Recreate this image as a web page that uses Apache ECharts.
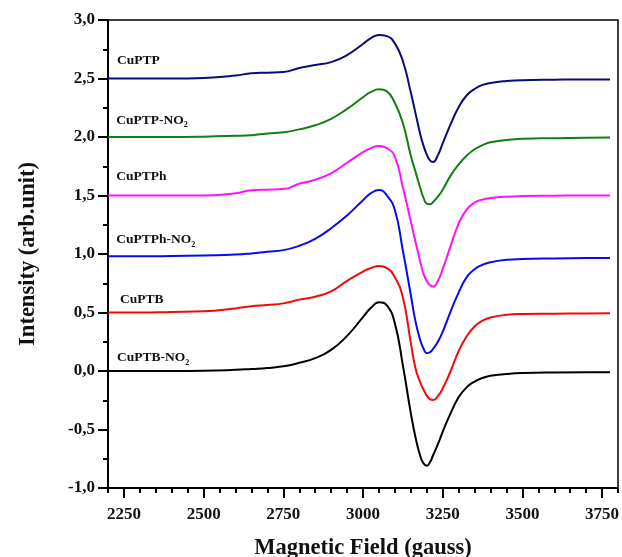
<!DOCTYPE html>
<html>
<head>
<meta charset="utf-8">
<script src="https://cdn.jsdelivr.net/npm/echarts@6/dist/echarts.min.js"></script>
<style>
  html, body { margin: 0; padding: 0; background: #ffffff; }
  #chart { width: 622px; height: 557px; }
</style>
</head>
<body>
<div id="chart"></div>
<script>
// Magnetic field sweep (gauss) shared by all spectra
const fieldGauss = [2200, 2300, 2400, 2500, 2600, 2650, 2700, 2750, 2800, 2850, 2900, 2950, 3000, 3025, 3050, 3075, 3100, 3125, 3150, 3165, 3180, 3190, 3200, 3210, 3220, 3235, 3250, 3275, 3300, 3325, 3350, 3375, 3400, 3450, 3500, 3600, 3700, 3775];

// EPR first-derivative intensities (stacked, arb. units)
const cuPTP = [2.50, 2.50, 2.50, 2.505, 2.525, 2.545, 2.55, 2.555, 2.59, 2.615, 2.64, 2.70, 2.795, 2.845, 2.872, 2.862, 2.80, 2.65, 2.38, 2.20, 2.02, 1.925, 1.85, 1.80, 1.787, 1.845, 1.945, 2.11, 2.255, 2.355, 2.41, 2.445, 2.462, 2.478, 2.486, 2.49, 2.492, 2.492];
const cuPTPNO2 = [2.0, 2.0, 2.0, 2.003, 2.01, 2.015, 2.03, 2.04, 2.065, 2.10, 2.155, 2.24, 2.34, 2.385, 2.408, 2.39, 2.29, 2.12, 1.84, 1.70, 1.56, 1.48, 1.43, 1.425, 1.445, 1.49, 1.55, 1.67, 1.765, 1.84, 1.895, 1.93, 1.955, 1.975, 1.985, 1.99, 1.993, 1.995];
const cuPTPh = [1.50, 1.50, 1.50, 1.50, 1.52, 1.545, 1.55, 1.555, 1.60, 1.635, 1.69, 1.78, 1.87, 1.905, 1.923, 1.905, 1.83, 1.57, 1.28, 1.10, 0.93, 0.83, 0.77, 0.735, 0.72, 0.77, 0.87, 1.07, 1.26, 1.38, 1.44, 1.465, 1.478, 1.49, 1.495, 1.498, 1.5, 1.5];
const cuPTPhNO2 = [0.98, 0.98, 0.983, 0.988, 0.995, 1.005, 1.02, 1.033, 1.07, 1.13, 1.22, 1.33, 1.46, 1.52, 1.547, 1.50, 1.376, 1.03, 0.65, 0.42, 0.26, 0.19, 0.152, 0.16, 0.19, 0.25, 0.335, 0.51, 0.67, 0.80, 0.87, 0.908, 0.93, 0.95, 0.957, 0.962, 0.965, 0.966];
const cuPTB = [0.50, 0.50, 0.505, 0.51, 0.535, 0.553, 0.565, 0.578, 0.61, 0.635, 0.68, 0.77, 0.85, 0.88, 0.897, 0.88, 0.80, 0.63, 0.24, 0.02, -0.10, -0.16, -0.21, -0.24, -0.248, -0.215, -0.15, 0.0, 0.17, 0.295, 0.38, 0.43, 0.458, 0.48, 0.487, 0.49, 0.492, 0.493];
const cuPTBNO2 = [0, 0, 0, 0.002, 0.01, 0.017, 0.025, 0.04, 0.07, 0.11, 0.18, 0.30, 0.46, 0.54, 0.587, 0.56, 0.407, 0.05, -0.36, -0.57, -0.73, -0.79, -0.81, -0.78, -0.72, -0.625, -0.52, -0.36, -0.225, -0.14, -0.09, -0.06, -0.04, -0.026, -0.018, -0.012, -0.01, -0.01];

// Sample names (subscript digit written separately)
const sampleNames = ['CuPTP', 'CuPTP-NO2', 'CuPTPh', 'CuPTPh-NO2', 'CuPTB', 'CuPTB-NO2'];
const sampleValues = [cuPTP, cuPTPNO2, cuPTPh, cuPTPhNO2, cuPTB, cuPTBNO2];
const sampleColors = ['#0a0a78', '#118011', '#ff10ff', '#0a0af0', '#f00a0a', '#000000'];

// Axis tick labels
const fieldTickLabels = [2250, 2500, 2750, 3000, 3250, 3500, 3750];
const intensityTickLabels = ['-1,0', '-0,5', '0,0', '0,5', '1,0', '1,5', '2,0', '2,5', '3,0'];

const FIELD_MIN = 2200, FIELD_MAX = 3800, FIELD_STEP = 50;
const FONT = '"Liberation Serif", "Times New Roman", serif';

// Where each name tag sits, in data units
const tagAnchors = [
  [2228, 2.65], [2226, 2.145], [2226, 1.658], [2226, 1.12], [2238, 0.607], [2228, 0.111]
];

function tagText(name) {
  if (name.endsWith('NO2')) return '{a|' + name.slice(0, -1) + '}{s|2}';
  return '{a|' + name + '}';
}

// Evenly spaced category positions used for the long ticks and labels
const fieldSlots = [];
for (let g = FIELD_MIN; g <= FIELD_MAX; g += FIELD_STEP) fieldSlots.push(String(g));
const isMajor = (idx, val) => fieldTickLabels.indexOf(Number(val)) !== -1;

const series = sampleNames.map((name, i) => ({
  name: name,
  type: 'line',
  xAxisIndex: 0,
  yAxisIndex: 0,
  data: fieldGauss.map((g, k) => [g, sampleValues[i][k]]),
  showSymbol: false,
  smooth: 0.5,
  lineStyle: { color: sampleColors[i], width: 2 },
  itemStyle: { color: sampleColors[i] },
  z: 3,
  markPoint: {
    symbol: 'circle',
    symbolSize: 0,
    silent: true,
    animation: false,
    data: [{ coord: tagAnchors[i], value: 0 }],
    label: {
      show: true,
      position: 'right',
      distance: 0,
      formatter: tagText(name),
      rich: {
        a: { fontFamily: FONT, fontWeight: 'bold', fontSize: 13.5, color: '#111', lineHeight: 18, verticalAlign: 'middle' },
        s: { fontFamily: FONT, fontWeight: 'bold', fontSize: 8, color: '#111', lineHeight: 18, verticalAlign: 'bottom' }
      }
    }
  }
}));

const option = {
  animation: false,
  backgroundColor: '#ffffff',
  grid: {
    left: 108, right: 4, top: 20, bottom: 69,
    outerBoundsMode: 'none',
    containLabel: false,
    show: true, borderColor: '#000', borderWidth: 1.5, backgroundColor: 'transparent'
  },
  xAxis: [
    {
      type: 'value',
      position: 'bottom',
      min: FIELD_MIN, max: FIELD_MAX, interval: FIELD_STEP,
      axisLine: { show: true, onZero: false, lineStyle: { color: '#000', width: 2 } },
      axisTick: { show: true, length: 5, lineStyle: { color: '#000', width: 2 } },
      axisLabel: { show: false },
      splitLine: { show: false },
      name: 'Magnetic Field (gauss)',
      nameLocation: 'middle',
      nameGap: 49,
      nameTextStyle: { fontFamily: FONT, fontWeight: 'bold', fontSize: 22.5, color: '#111', verticalAlign: 'top' }
    },
    {
      type: 'category',
      position: 'bottom',
      data: fieldSlots,
      boundaryGap: false,
      axisLine: { show: false, onZero: false },
      axisTick: { show: true, length: 10, interval: isMajor, lineStyle: { color: '#000', width: 2 } },
      axisLabel: {
        show: true, interval: isMajor, margin: 18,
        fontFamily: FONT, fontWeight: 'bold', fontSize: 17, color: '#111'
      },
      splitLine: { show: false }
    }
  ],
  yAxis: {
    type: 'value',
    min: -1, max: 3, interval: 0.5,
    axisLine: { show: true, onZero: false, lineStyle: { color: '#000', width: 2 } },
    axisTick: { show: true, length: 10, lineStyle: { color: '#000', width: 2 } },
    minorTick: { show: true, splitNumber: 2, length: 5, lineStyle: { color: '#000', width: 2 } },
    axisLabel: {
      margin: 13,
      fontFamily: FONT, fontWeight: 'bold', fontSize: 17, color: '#111',
      formatter: (v) => intensityTickLabels[Math.round((v + 1) / 0.5)]
    },
    splitLine: { show: false },
    name: 'Intensity (arb.unit)',
    nameLocation: 'middle',
    nameGap: 68,
    nameTextStyle: { fontFamily: FONT, fontWeight: 'bold', fontSize: 22.5, color: '#111' }
  },
  series: series
};

const chart = echarts.init(document.getElementById('chart'), null, { renderer: 'canvas' });
chart.setOption(option);
</script>
</body>
</html>
